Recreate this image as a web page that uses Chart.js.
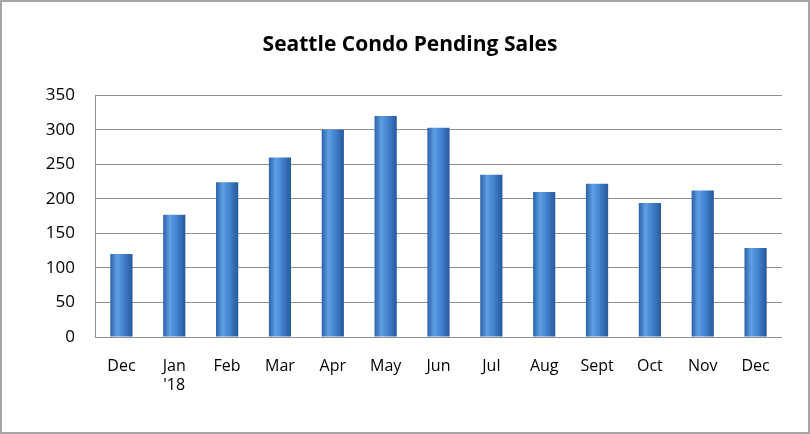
<!DOCTYPE html>
<html>
<head>
<meta charset="utf-8">
<script src="https://cdn.jsdelivr.net/npm/chart.js@4/dist/chart.umd.min.js"></script>
<style>
  body { margin: 0; background: #fff; }
  #wrap {
    width: 810px; height: 434px; box-sizing: border-box;
    border: 2px solid #a6a6a6; background: #fff;
  }
  #wrap canvas { display: block; }
</style>
</head>
<body>
<div id="wrap"><canvas id="salesChart" width="806" height="430"></canvas></div>
<script>
// Chart data
const months = ['Dec', ['Jan', "'18"], 'Feb', 'Mar', 'Apr', 'May', 'Jun', 'Jul', 'Aug', 'Sept', 'Oct', 'Nov', 'Dec'];
const pendingSales = [120, 177, 224, 260, 300, 320, 303, 235, 210, 222, 194, 212, 129];
const yTicks = [0, 50, 100, 150, 200, 250, 300, 350];

const fontFamily = "'Open Sans', 'Noto Sans', sans-serif";

// Horizontal gradient across each bar, gives the rounded look
function barFill(context) {
    const chart = context.chart;
    const area = chart.chartArea;
    if (!area) return '#3b7dd0';
    const x = chart.scales.x.getPixelForValue(context.dataIndex);
    const half = (area.right - area.left) / months.length * 0.42 / 2;
    const g = chart.ctx.createLinearGradient(x - half, 0, x + half, 0);
    g.addColorStop(0, '#2b61a8');
    g.addColorStop(0.3, '#5e9fe4');
    g.addColorStop(0.55, '#4787d4');
    g.addColorStop(1, '#26599d');
    return g;
}

const ctx = document.getElementById('salesChart');
new Chart(ctx, {
    type: 'bar',
    data: {
        labels: months,
        datasets: [{
            data: pendingSales,
            backgroundColor: barFill,
            borderWidth: 0,
            barPercentage: 0.42,
            categoryPercentage: 1
        }]
    },
    options: {
        responsive: false,
        animation: false,
        layout: { padding: { left: 10, right: 0, top: 0, bottom: 0 } },
        plugins: {
            legend: { display: false },
            tooltip: { enabled: false },
            title: {
                display: true,
                text: 'Seattle Condo Pending Sales',
                color: '#000',
                font: { family: fontFamily, size: 21, weight: 'bold', lineHeight: 1.2 },
                padding: { top: 30, bottom: 38 }
            }
        },
        scales: {
            x: {
                grid: { display: false },
                border: { display: false },
                ticks: {
                    color: '#000',
                    font: { family: fontFamily, size: 16 },
                    padding: 12,
                    maxRotation: 0,
                    autoSkip: false
                },
                afterFit: axis => { axis.height = 95; }
            },
            y: {
                min: 0,
                max: 350,
                afterBuildTicks: axis => { axis.ticks = yTicks.map(v => ({ value: v })); },
                grid: { color: '#8f8f8f', lineWidth: 1, drawTicks: false },
                border: { display: true, color: '#8f8f8f', width: 1 },
                ticks: {
                    color: '#000',
                    font: { family: fontFamily, size: 17 },
                    padding: 20
                },
                afterFit: axis => { axis.width = 83; }
            },
            // empty right margin so the title centres like the original
            yRight: {
                position: 'right',
                min: 0,
                max: 350,
                grid: { display: false },
                border: { display: false },
                ticks: { display: false },
                afterFit: axis => { axis.width = 26; }
            }
        }
    }
});
</script>
</body>
</html>
